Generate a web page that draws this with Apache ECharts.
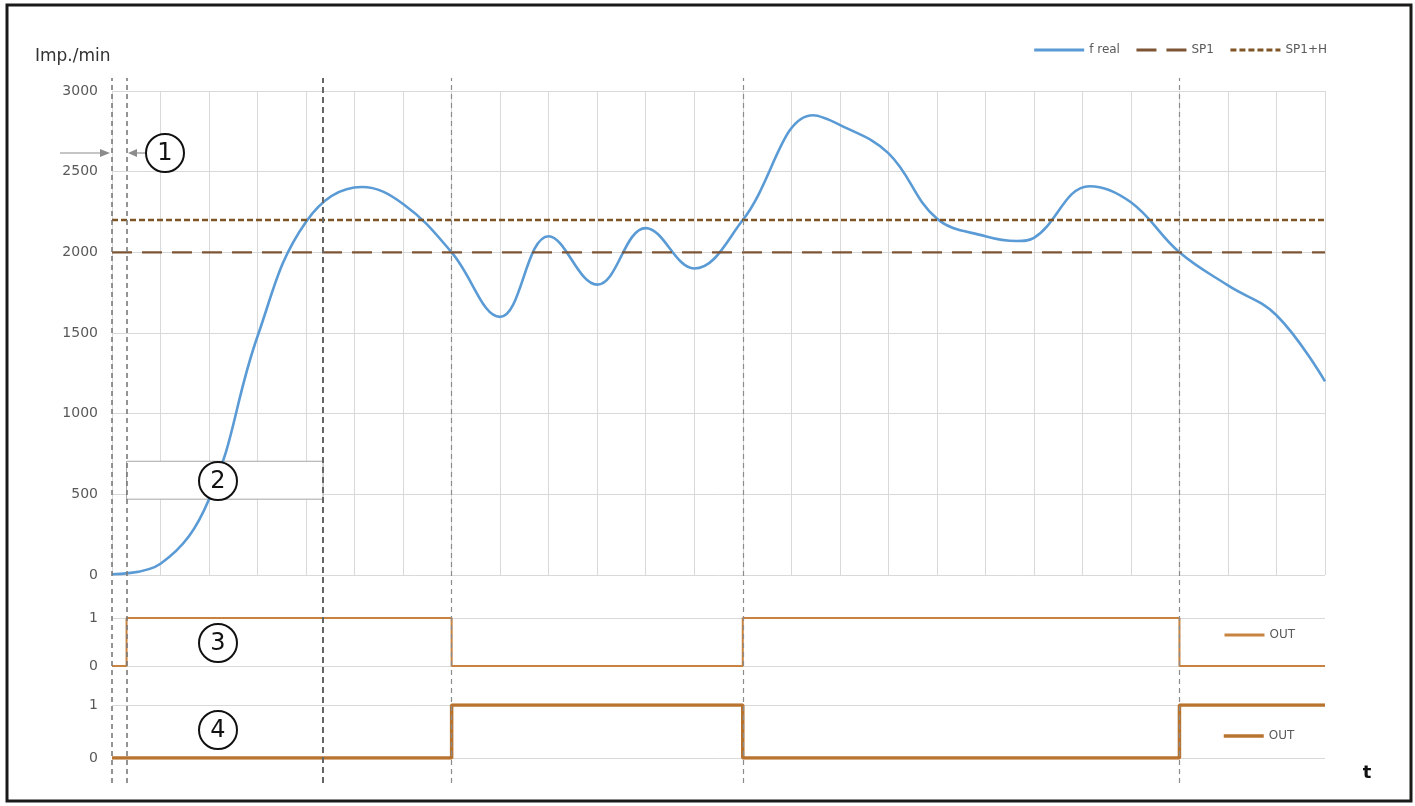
<!DOCTYPE html>
<html><head><meta charset="utf-8">
<script src="https://cdn.jsdelivr.net/npm/echarts@6/dist/echarts.min.js"></script>
<style>html,body{margin:0;padding:0;background:#fff}#c{width:1415px;height:806px}</style>
</head><body><div id="c"></div>
<script>
// ---- data ----
const fRealTime = [0,1,2,3,4,5.15,6,7,8,9,10,11,12,13,14.45,15,16,17,18,18.65,19,20.15,21,22,23,24,25];
const fReal     = [5,70,470,1480,2190,2405,2300,2000,1600,2100,1800,2150,1900,2200,2850,2790,2615,2210,2100,2070,2090,2410,2310,2000,1795,1610,1200];
const sp1 = 2000;
const sp1H = 2200;
const timeRange = [0, 25];
const yRangeMain = [0, 3000];
const out3Edges = [0, 0.3, 7, 13, 22, 25];
const out3Levels = [0, 1, 0, 1, 0];
const out4Edges = [0, 7, 13, 22, 25];
const out4Levels = [0, 1, 0, 1];
const markerTimes = [0, 0.3, 4.35, 7, 13, 22];
const box2Time = [0.3, 4.35];
const box2Value = [470, 705];

// ---- helpers building library data from the arrays ----
function stepPoints(edges, levels){
  const pts = [];
  for (let i = 0; i < levels.length; i++){
    pts.push([edges[i], levels[i]]);
    pts.push([edges[i+1], levels[i]]);
  }
  return pts;
}
const fRealData = fRealTime.map((t,i)=>[t, fReal[i]]);
const tMin = timeRange[0], tMax = timeRange[1];

const FONT = 'DejaVu Sans';
const gridL = 112, gridR = 90;
const lblStyle = {color:'#595959', fontSize:14, fontFamily:FONT, margin:14, formatter:v=>String(v)};
const splitStyle = {color:'#d9d9d9', width:1};
const legendText = {fontFamily:FONT, fontSize:12, color:'#595959'};
const hideSym = {opacity:0};

const markerStyles = [
  {color:'#7a7a7a', width:1.6, type:[5,4]},
  {color:'#7a7a7a', width:1.6, type:[5,4]},
  {color:'#666666', width:2, type:[6,4]},
  {color:'#8c8c8c', width:1.2, type:[5,4]},
  {color:'#8c8c8c', width:1.2, type:[5,4]},
  {color:'#8c8c8c', width:1.2, type:[5,4]}
];

function circledNum(cx, cy, txt){
  return [
    {type:'circle', z:100, shape:{cx:cx, cy:cy, r:19}, style:{fill:'#fff', stroke:'#111', lineWidth:2}},
    {type:'text', z:101, x:cx, y:cy+1, style:{text:txt, fill:'#111', font:'24px "DejaVu Sans"', textAlign:'center', textVerticalAlign:'middle'}}
  ];
}

const chart = echarts.init(document.getElementById('c'));
chart.setOption({
  backgroundColor:'#fff',
  animation:false,
  title:{text:'Imp./min', left:30, top:43, textStyle:{fontFamily:FONT, fontSize:17, fontWeight:'normal', color:'#333'}},
  legend:[
    {data:['f real','SP1','SP1+H'], right:88, top:44, padding:0, itemWidth:50, itemHeight:12, itemGap:15,
     itemStyle:hideSym, lineStyle:{width:3}, textStyle:legendText},
    {data:['OUT'], left:1223, top:629, padding:0, itemWidth:40, itemHeight:12, itemStyle:hideSym, lineStyle:{width:3}, textStyle:legendText},
    {data:['OUT '], left:1222, top:730, padding:0, itemWidth:40, itemHeight:12, itemStyle:hideSym, lineStyle:{width:3.5}, formatter:n=>n.trim(), textStyle:legendText}
  ],
  grid:[
    {left:gridL, right:gridR, top:91, height:484},
    {left:gridL, right:gridR, top:618, height:48},
    {left:gridL, right:gridR, top:705, height:53},
    {left:gridL, right:gridR, top:78, height:705}
  ],
  xAxis:[
    {type:'value', gridIndex:0, min:tMin, max:tMax, interval:1, axisLine:{show:false}, axisTick:{show:false}, axisLabel:{show:false}, splitLine:{show:true, lineStyle:splitStyle}},
    {type:'value', gridIndex:1, min:tMin, max:tMax, show:false},
    {type:'value', gridIndex:2, min:tMin, max:tMax, show:false},
    {type:'value', gridIndex:3, min:tMin, max:tMax, show:false}
  ],
  yAxis:[
    {type:'value', gridIndex:0, min:yRangeMain[0], max:yRangeMain[1], interval:500, axisLine:{show:false}, axisTick:{show:false}, axisLabel:lblStyle, splitLine:{lineStyle:splitStyle}},
    {type:'value', gridIndex:1, min:0, max:1, interval:1, axisLine:{show:false}, axisTick:{show:false}, axisLabel:lblStyle, splitLine:{lineStyle:splitStyle}},
    {type:'value', gridIndex:2, min:0, max:1, interval:1, axisLine:{show:false}, axisTick:{show:false}, axisLabel:lblStyle, splitLine:{lineStyle:splitStyle}},
    {type:'value', gridIndex:3, min:0, max:1, show:false}
  ],
  series:[
    {name:'f real', type:'line', xAxisIndex:0, yAxisIndex:0, data:fRealData, smooth:0.4, symbol:'none',
     lineStyle:{color:'#5b9bd5', width:2.6}, itemStyle:{color:'#5b9bd5'}, z:3,
     markArea:{silent:true, itemStyle:{color:'#ffffff', borderColor:'#a6a6a6', borderWidth:1},
       data:[[{xAxis:box2Time[0], yAxis:box2Value[0]},{xAxis:box2Time[1], yAxis:box2Value[1]}]]}},
    {name:'SP1', type:'line', xAxisIndex:0, yAxisIndex:0, data:[[tMin,sp1],[tMax,sp1]], symbol:'none',
     lineStyle:{color:'#7d5535', width:2.4, type:[20,10]}, itemStyle:{color:'#7d5535'}},
    {name:'SP1+H', type:'line', xAxisIndex:0, yAxisIndex:0, data:[[tMin,sp1H],[tMax,sp1H]], symbol:'none',
     lineStyle:{color:'#7f5526', width:2.6, type:[6,3]}, itemStyle:{color:'#7f5526'}},
    {name:'OUT', type:'line', xAxisIndex:1, yAxisIndex:1, data:stepPoints(out3Edges,out3Levels), symbol:'none',
     lineStyle:{color:'#c98340', width:2}, itemStyle:{color:'#c98340'}},
    {name:'OUT ', type:'line', xAxisIndex:2, yAxisIndex:2, data:stepPoints(out4Edges,out4Levels), symbol:'none',
     lineStyle:{color:'#b8732f', width:3.5}, itemStyle:{color:'#b8732f'}},
    {name:'markers', type:'line', xAxisIndex:3, yAxisIndex:3, data:[], silent:true,
     markLine:{silent:true, symbol:'none', label:{show:false},
       data:markerTimes.map((t,i)=>({xAxis:t, lineStyle:markerStyles[i]}))}}
  ],
  graphic:[
    {type:'rect', z:90, shape:{x:7, y:5, width:1404, height:796}, style:{fill:'none', stroke:'#1a1a1a', lineWidth:3}},
    {type:'line', z:100, shape:{x1:60, y1:153, x2:102, y2:153}, style:{stroke:'#8c8c8c', lineWidth:1.2}},
    {type:'polygon', z:100, shape:{points:[[110,153],[100,149],[100,157]]}, style:{fill:'#8c8c8c'}},
    {type:'line', z:100, shape:{x1:135, y1:153, x2:146, y2:153}, style:{stroke:'#8c8c8c', lineWidth:1.2}},
    {type:'polygon', z:100, shape:{points:[[128,153],[137,149],[137,157]]}, style:{fill:'#8c8c8c'}},
    ...circledNum(165,153,'1'),
    ...circledNum(218,481,'2'),
    ...circledNum(218,643,'3'),
    ...circledNum(218,730,'4'),
    {type:'text', z:100, x:1367, y:773, style:{text:'t', fill:'#111', font:'bold 18px "DejaVu Sans"', textAlign:'center', textVerticalAlign:'middle'}}
  ]
});
</script></body></html>
